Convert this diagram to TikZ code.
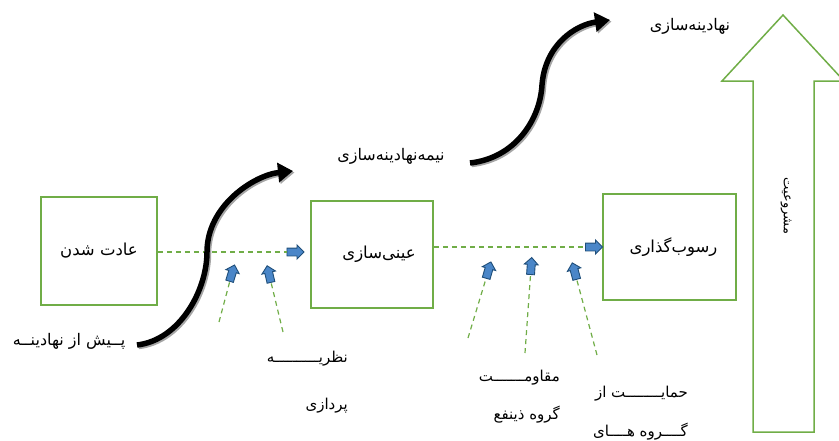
\documentclass[tikz,border=0pt]{standalone}
\usepackage{fontspec}
\usetikzlibrary{arrows.meta,shapes.arrows}
\newfontfamily\farsi[Script=Arabic]{DejaVu Sans}
\TeXXeTstate=1
\definecolor{boxgreen}{HTML}{70AD47}
\definecolor{pushfill}{HTML}{4A86C8}
\definecolor{pushedge}{HTML}{1F4E79}
\definecolor{wavegray}{HTML}{A6A6A6}
\begin{document}
\begin{tikzpicture}[x=1pt,y=-1pt,
    stage/.style={draw=boxgreen,line width=1.5pt,inner sep=0pt,font=\farsi\fontsize{16.5}{18}\selectfont},
    flow/.style={draw=boxgreen,line width=1.2pt,dash pattern=on 5pt off 4pt},
    push/.style={single arrow,draw=pushedge,fill=pushfill,line width=0.9pt,inner xsep=0pt,inner ysep=3.5pt,
        minimum height=17pt,single arrow head extend=3pt},
    wave/.style={line width=5.5pt,-{Triangle[length=15pt,width=19pt]}},
    note/.style={inner sep=0pt,font=\farsi\fontsize{16}{18}\selectfont}]
    \useasboundingbox (0,0) rectangle (839,440);

    \node[stage,minimum width=116pt,minimum height=108pt] (habit) at (99,251) {\beginR عادت شدن\endR};
    \node[stage,minimum width=122pt,minimum height=107pt] (objectify) at (372,254.5) {\beginR عینی‌سازی\hspace{14pt}\endR};
    \node[stage,minimum width=133pt,minimum height=106pt] (sediment) at (669.5,247) {\beginR رسوب‌گذاری\hspace{8pt}\endR};

    \draw[boxgreen,line width=1.5pt] (783,15) -- (844,81) -- (814,81) -- (814,432)
        -- (753,432) -- (753,81) -- (722,81) -- cycle;
    \node[note,rotate=-90,font=\farsi\fontsize{13}{15}\selectfont] (legit) at (786,206) {\beginR مشروعیت\endR};

    \node[push] (h1) at (293.5,252) {};
    \node[push] (h2) at (592,247) {};
    \draw[flow] (habit.east |- h1) -- (h1);
    \draw[flow] (objectify.east |- h2) -- (h2);

    \node[push,rotate=73] (t1) at (231.5,275) {};
    \node[push,rotate=103] (t2) at (269.5,276) {};
    \node[push,rotate=74] (g1) at (488,272) {};
    \node[push,rotate=86] (g2) at (531,268) {};
    \node[push,rotate=105] (g3) at (575,273) {};
    \coordinate (t1s) at (219,322);
    \coordinate (t2s) at (283,332);
    \coordinate (g1s) at (468,338);
    \coordinate (g2s) at (525,353);
    \coordinate (g3s) at (597,355);
    \draw[flow] (t1s) -- (t1);
    \draw[flow] (t2s) -- (t2);
    \draw[flow] (g1s) -- (g1);
    \draw[flow] (g2s) -- (g2);
    \draw[flow] (g3s) -- (g3);

    \draw[wave,wavegray,shift={(1.5,1.5)}] (137,345) .. controls (180,340) and (207,290) .. (207,252)
        .. controls (207,205) and (255,175) .. (293,171);
    \draw[wave,black] (137,345) .. controls (180,340) and (207,290) .. (207,252)
        .. controls (207,205) and (255,175) .. (293,171);
    \draw[wave,wavegray,shift={(1.5,1.5)}] (470,163) .. controls (515,158) and (540,120) .. (542,85)
        .. controls (545,45) and (575,25) .. (610,20);
    \draw[wave,black] (470,163) .. controls (515,158) and (540,120) .. (542,85)
        .. controls (545,45) and (575,25) .. (610,20);

    \node[note] (pre) at (69,341) {\beginR پــیش از نهادینــه\endR};
    \node[note] (semi) at (391,156) {\beginR نیمه‌نهادینه‌سازی\endR};
    \node[note] (full) at (690,26) {\beginR نهادینه‌سازی\endR};

    \node[note,align=right,anchor=north east,font=\farsi\fontsize{15}{47}\selectfont] (theory) at (348,351)
        {\beginR نظریــــــــــه\endR\\\beginR پردازی\endR};
    \node[note,align=right,anchor=north east,font=\farsi\fontsize{15}{38}\selectfont] (resist) at (560,370)
        {\beginR مقاومـــــــت\endR\\\beginR گروه ذینفع\endR};
    \node[note,align=right,anchor=north east,font=\farsi\fontsize{15}{39}\selectfont] (support) at (688,386)
        {\beginR حمایــــــــت از\endR\\\beginR گــــروه هــــای\endR};
\end{tikzpicture}
\end{document}
